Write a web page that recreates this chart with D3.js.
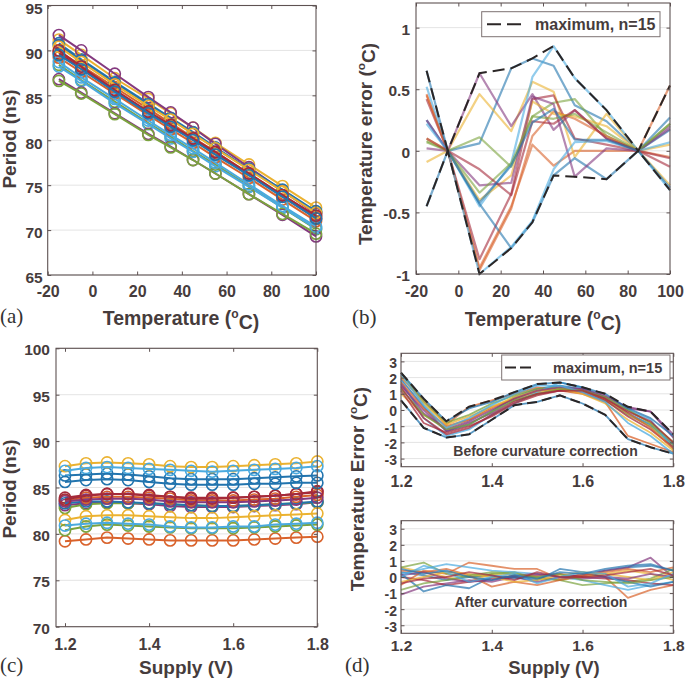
<!DOCTYPE html>
<html><head><meta charset="utf-8">
<script src="https://cdn.jsdelivr.net/npm/d3@7"></script>
<style>
body{margin:0;background:#fff}
text{font-family:"Liberation Sans",Arial,Helvetica,sans-serif;font-weight:bold;fill:#463c3c}
text.plab{font-family:"Liberation Serif","DejaVu Serif",serif;font-weight:normal;fill:#333}
</style>
</head><body>
<svg id="chart" width="685" height="678"></svg>
<script>
// ---------------- DATA ----------------
const temps = [-15, -5, 10, 25, 35, 45, 55, 70, 85, 100];
const supply = [1.2, 1.25, 1.3, 1.35, 1.4, 1.45, 1.5, 1.55, 1.6, 1.65, 1.7, 1.75, 1.8];

// (a) Period (ns) vs temperature, 15 chips
const periodVsTemp = [
  [90.8, 89.0, 86.5, 84.1, 82.5, 80.9, 79.2, 76.8, 74.4, 71.9],
  [89.9, 88.3, 85.9, 83.5, 81.9, 80.3, 78.7, 76.3, 73.9, 71.5],
  [91.2, 89.5, 86.9, 84.6, 83.0, 81.4, 79.7, 77.3, 74.9, 72.5],
  [91.7, 90.0, 87.4, 84.8, 83.1, 81.4, 79.6, 77.0, 74.4, 71.8],
  [88.4, 86.7, 84.3, 81.9, 80.4, 78.8, 77.3, 74.9, 72.5, 70.1],
  [88.2, 86.6, 84.1, 81.8, 80.2, 78.7, 77.1, 74.8, 72.5, 70.2],
  [89.7, 88.0, 85.5, 83.1, 81.6, 80.1, 78.6, 76.2, 73.8, 71.3],
  [90.6, 88.9, 86.4, 84.0, 82.4, 80.8, 79.1, 76.8, 74.5, 72.1],
  [89.2, 87.6, 85.2, 82.8, 81.2, 79.7, 78.1, 75.8, 73.4, 71.0],
  [90.4, 88.7, 86.2, 83.8, 82.3, 80.7, 79.1, 76.7, 74.3, 71.9],
  [86.8, 85.3, 83.0, 80.7, 79.3, 77.8, 76.3, 74.0, 71.7, 69.3],
  [86.6, 85.2, 82.9, 80.6, 79.2, 77.8, 76.3, 74.0, 71.8, 69.6],
  [88.7, 87.0, 84.6, 82.2, 80.6, 79.1, 77.5, 75.1, 72.7, 70.4],
  [90.0, 88.2, 85.6, 83.2, 81.7, 80.2, 78.7, 76.3, 73.9, 71.6],
  [89.5, 87.9, 85.4, 83.0, 81.5, 80.0, 78.4, 76.1, 73.7, 71.3]
];

// (b) Temperature error (°C) vs temperature
const tempError = [
  [-0.45, 0, 0.06, 0.67, 0.75, 0.69, 0.37, 0.24, 0, 0.27],
  [0.46, 0, -0.95, -0.45, 0.05, -0.12, 0.0, 0.0, 0, 0.53],
  [-0.09, 0, 0.46, 0.16, 0.56, 0.48, -0.05, 0.30, 0, -0.28],
  [0.02, 0, 0.63, 0.20, 0.46, 0.17, 0.33, 0.10, 0, 0.20],
  [0.08, 0, 0.11, -0.13, 0.28, 0.39, 0.42, 0.12, 0, 0.22],
  [0.52, 0, -0.45, -0.10, 0.60, 0.85, 0.59, 0.33, 0, -0.32],
  [0.42, 0, -0.88, -0.35, 0.42, 0.45, 0.10, 0.05, 0, -0.13],
  [0.25, 0, -0.43, -0.79, -0.58, -0.20, -0.06, -0.23, 0, 0.17],
  [0.45, 0, -0.97, -0.47, 0.12, 0.32, 0.26, 0.12, 0, -0.05],
  [0.10, 0, -0.40, -0.20, 0.40, 0.30, 0.28, 0.20, 0, 0.05],
  [0.25, 0, -0.28, -0.26, 0.44, 0.38, -0.21, 0.02, 0, 0.18],
  [0.07, 0, -0.34, -0.10, 0.28, 0.26, 0.30, 0.15, 0, 0.22],
  [0.22, 0, -1.00, -0.78, -0.57, -0.15, 0.07, 0.08, 0, 0.07],
  [0.10, 0, -0.15, -0.36, 0.24, 0.22, 0.33, 0.10, 0, -0.06],
  [0.65, 0, -0.42, -0.12, 0.23, 0.34, 0.09, 0.09, 0, -0.30]
];

// (c) Period (ns) vs supply
const periodVsSupply = [
  [86.3, 86.4, 86.5, 86.4, 86.2, 86.0, 85.9, 85.9, 85.9, 86.0, 86.1, 86.2, 86.3],
  [79.2, 79.4, 79.6, 79.5, 79.4, 79.3, 79.3, 79.3, 79.3, 79.4, 79.5, 79.6, 79.7],
  [87.3, 87.6, 87.7, 87.6, 87.5, 87.3, 87.2, 87.2, 87.3, 87.4, 87.5, 87.6, 87.8],
  [83.1, 83.3, 83.4, 83.3, 83.2, 83.0, 82.9, 82.9, 82.9, 83.0, 83.1, 83.2, 83.4],
  [82.8, 83.2, 83.3, 83.3, 83.3, 83.2, 83.1, 83.0, 83.0, 83.1, 83.2, 83.3, 83.4],
  [86.8, 87.1, 87.2, 87.1, 87.0, 86.9, 86.8, 86.7, 86.8, 86.9, 87.0, 87.1, 87.3],
  [83.9, 84.2, 84.3, 84.3, 84.1, 84.0, 83.9, 83.9, 83.9, 84.0, 84.1, 84.3, 84.6],
  [83.3, 83.5, 83.5, 83.4, 83.3, 83.2, 83.1, 83.0, 83.0, 83.1, 83.2, 83.3, 83.5],
  [83.6, 83.9, 84.0, 84.0, 83.9, 83.8, 83.6, 83.6, 83.6, 83.7, 83.8, 84.0, 84.2],
  [81.5, 81.9, 82.0, 82.0, 81.9, 81.8, 81.7, 81.7, 81.8, 81.9, 82.0, 82.1, 82.2],
  [83.5, 83.7, 83.8, 83.8, 83.7, 83.5, 83.4, 83.4, 83.4, 83.5, 83.6, 83.7, 83.9],
  [80.4, 80.8, 81.0, 80.9, 80.8, 80.7, 80.6, 80.6, 80.6, 80.7, 80.8, 80.9, 81.0],
  [80.9, 81.1, 81.2, 81.1, 81.0, 80.8, 80.7, 80.7, 80.8, 80.8, 81.0, 81.1, 81.2],
  [83.7, 84.1, 84.3, 84.3, 84.2, 84.0, 83.8, 83.8, 83.9, 84.0, 84.1, 84.3, 84.5],
  [85.6, 85.8, 85.9, 85.8, 85.6, 85.4, 85.3, 85.3, 85.3, 85.4, 85.4, 85.5, 85.5]
];

// (d) Temperature error vs supply, before curvature correction
const errBefore = [
  [1.9, 0.2, -1.3, -0.9, -0.1, 0.8, 1.3, 1.5, 1.3, 0.8, -0.2, -0.9, -2.1],
  [2.0, 0.6, -0.9, 0.2, 0.6, 1.0, 1.4, 1.2, 1.0, 0.5, -1.6, -2.1, -2.6],
  [1.0, -0.3, -1.1, -0.6, 0.2, 0.7, 1.1, 1.3, 1.2, 0.7, 0.0, -0.8, -2.0],
  [1.5, 0.0, -1.3, -0.8, -0.2, 0.6, 1.0, 1.2, 1.3, 0.9, 0.1, -0.1, -1.5],
  [2.3, 0.5, -0.8, -0.3, 0.4, 0.9, 1.3, 1.4, 1.2, 0.6, -0.3, -1.0, -2.2],
  [1.8, -0.5, -1.6, -1.2, -0.3, 0.4, 1.1, 1.7, 1.4, 0.7, 0.0, -0.6, -2.4],
  [1.2, -0.8, -1.4, -1.0, -0.4, 0.4, 0.9, 1.2, 1.1, 0.6, -0.4, -1.2, -2.3],
  [0.6, -1.1, -1.7, -1.5, -0.6, 0.3, 0.5, 0.9, 0.4, -0.3, -1.8, -2.3, -2.7],
  [1.7, 0.1, -1.0, -0.6, 0.1, 0.7, 1.2, 1.3, 1.2, 0.7, -0.2, -1.1, -2.4],
  [2.1, 0.4, -0.9, -0.4, 0.2, 0.8, 1.2, 1.3, 1.0, 0.4, -0.6, -1.4, -2.5],
  [1.6, -0.2, -1.2, -0.7, 0.0, 0.7, 1.2, 1.4, 1.3, 0.8, 0.2, -0.1, -1.7],
  [1.3, -0.3, -1.2, -0.9, -0.1, 0.6, 1.0, 1.3, 1.2, 0.8, 0.0, -0.8, -2.0],
  [2.2, 0.3, -1.1, -0.5, 0.3, 1.0, 1.5, 1.5, 1.1, 0.5, -0.8, -1.6, -2.7],
  [1.4, -0.5, -1.5, -1.1, -0.3, 0.5, 1.0, 1.2, 1.2, 0.7, -0.1, -0.7, -2.0],
  [2.3, 0.7, -0.7, 0.1, 0.5, 1.1, 1.6, 1.7, 1.4, 1.0, 0.1, -0.5, -1.6]
];

// (d) after curvature correction
const errAfter = [
  [0.3, 0.1, -0.2, 0.0, 0.1, -0.1, 0.0, -0.2, 0.1, 0.4, 0.6, 0.7, 0.4],
  [-0.5, 0.4, 0.2, 0.9, 0.7, 0.5, 0.5, -0.1, 0.2, 0.0, -1.3, -0.8, -0.5],
  [0.6, 0.3, 0.0, -0.3, 0.2, 0.1, 0.0, -0.2, 0.0, 0.2, 0.4, 0.2, -0.2],
  [-1.1, -0.6, -0.4, -0.2, -0.3, 0.0, -0.3, 0.0, 0.1, 0.4, 0.6, 1.2, 0.0],
  [0.6, 0.9, 0.2, 0.0, 0.2, 0.3, -0.1, -0.2, -0.5, -0.4, -0.3, -0.1, 0.5],
  [0.2, 0.5, 0.8, 0.6, 0.4, 0.3, 0.2, 0.0, -0.2, -0.5, -0.8, -0.5, -0.3],
  [0.0, -0.2, -0.5, -0.3, -0.1, 0.0, 0.1, 0.2, 0.0, -0.1, -0.2, -0.4, -0.5],
  [0.2, -0.9, -0.5, -0.7, 0.0, 0.0, -0.2, 0.5, 0.3, 0.0, -0.3, -0.6, -0.3],
  [0.4, 0.3, 0.5, 0.1, -0.6, -0.3, -0.5, -0.2, 0.1, 0.3, 0.5, 0.3, 0.6],
  [-0.3, 0.0, 0.3, 0.2, 0.0, -0.3, -0.2, 0.1, 0.3, 0.2, 0.0, -0.2, 0.3],
  [0.1, 0.3, -0.1, -0.3, -0.2, 0.1, 0.2, 0.0, -0.1, 0.0, -0.1, 0.2, 0.0],
  [-0.8, -0.4, -0.2, 0.1, 0.3, 0.2, 0.0, 0.2, -0.2, -0.3, -0.4, -0.2, 0.0],
  [0.0, 0.7, 0.3, -0.3, 0.0, 0.2, -0.4, 0.0, 0.3, 0.2, -0.6, -0.4, 0.2],
  [-0.4, -0.1, 0.0, 0.3, 0.1, -0.2, 0.3, 0.0, 0.0, 0.1, 0.3, 0.5, 0.1],
  [0.5, 0.2, 0.4, 0.0, -0.2, 0.1, -0.1, 0.3, 0.2, 0.5, 0.7, 0.8, 0.4]
];

const tempTicks = [-20, 0, 20, 40, 60, 80, 100];
const periodTicksA = [65, 70, 75, 80, 85, 90, 95];
const errTicksB = [-1, -0.5, 0, 0.5, 1];
const supplyTicks = [1.2, 1.4, 1.6, 1.8];
const periodTicksC = [70, 75, 80, 85, 90, 95, 100];
const errTicksD = [-3, -2, -1, 0, 1, 2, 3];
const legendLabel = "maximum, n=15";

// ---------------- STYLE ----------------
const palette = ["#2274ae", "#d9622b", "#ebb230", "#84397f", "#7ba33e", "#4aaadf", "#a52a3a"];
const axisColor = "#5e5252";
const gridColor = "#e4e4e4";
const svg = d3.select("#chart");

function makeAxes(o) {
  const x = d3.scaleLinear().domain(o.xdom).range([o.x0, o.x1]);
  const y = d3.scaleLinear().domain(o.ydom).range([o.y1, o.y0]);
  const g = svg.append("g");
  g.append("g").selectAll("line").data(o.yticks).join("line")
    .attr("x1", o.x0).attr("x2", o.x1)
    .attr("y1", d => y(d)).attr("y2", d => y(d))
    .attr("stroke", gridColor).attr("stroke-width", 1);
  const plot = g.append("g");
  const over = svg.append("g");
  over.append("rect").attr("x", o.x0).attr("y", o.y0)
    .attr("width", o.x1 - o.x0).attr("height", o.y1 - o.y0)
    .attr("fill", "none").attr("stroke", axisColor).attr("stroke-width", 1.1);
  const fmt = o.fmt || (d => String(d));
  const ax = d3.axisBottom(x).tickValues(o.xticks).tickSize(-3.5).tickPadding(o.xpad).tickFormat(fmt);
  const axT = d3.axisTop(x).tickValues(o.xticks).tickSize(-3.5).tickFormat("");
  const ay = d3.axisLeft(y).tickValues(o.yticks).tickSize(-3.5).tickPadding(o.ypad).tickFormat(o.yfmt || fmt);
  const ayR = d3.axisRight(y).tickValues(o.yticks).tickSize(-3.5).tickFormat("");
  const gx = over.append("g").attr("transform", `translate(0,${o.y1})`).call(ax);
  const gxt = over.append("g").attr("transform", `translate(0,${o.y0})`).call(axT);
  const gy = over.append("g").attr("transform", `translate(${o.x0},0)`).call(ay);
  const gyr = over.append("g").attr("transform", `translate(${o.x1},0)`).call(ayR);
  [gx, gxt, gy, gyr].forEach(s => {
    s.select(".domain").remove();
    s.selectAll(".tick line").attr("stroke", axisColor);
    s.selectAll(".tick text").attr("fill", "#463c3c")
      .style("font-family", '"Liberation Sans",Arial,sans-serif')
      .style("font-weight", "bold").style("font-size", o.tickSize + "px");
  });
  gy.selectAll(".tick text").attr("dy", o.ydy || "0.42em").style("font-size", (o.ytickSize || o.tickSize) + "px");
  return {x, y, plot, over};
}

function degLabel(sel, pre) {
  sel.append("tspan").text(pre + "(");
  sel.append("tspan").text("o").attr("font-size", "0.62em").attr("dy", "-0.55em");
  sel.append("tspan").text("C)").attr("dy", "0.55em");
}

function addXLabel(x, y, size, txt, deg) {
  const t = svg.append("text").attr("x", x).attr("y", y).attr("text-anchor", "middle").style("font-size", size + "px");
  if (deg) degLabel(t, txt); else t.text(txt);
}
function addYLabel(x, y, size, txt, deg) {
  const t = svg.append("text").attr("transform", `translate(${x},${y}) rotate(-90)`).attr("text-anchor", "middle").style("font-size", size + "px");
  if (deg) degLabel(t, txt); else t.text(txt);
}

function markerSeries(A, xs, data) {
  data.forEach((s, i) => {
    const c = palette[i % palette.length];
    const pts = s.map((v, j) => [A.x(xs[j]), A.y(v)]);
    A.plot.append("path").attr("d", d3.line()(pts)).attr("fill", "none")
      .attr("stroke", c).attr("stroke-width", 2);
    A.plot.append("g").selectAll("circle").data(pts).join("circle")
      .attr("cx", d => d[0]).attr("cy", d => d[1]).attr("r", 5.6)
      .attr("fill", "none").attr("stroke", c).attr("stroke-width", 1.6);
  });
}

function lineSeries(A, xs, data, opacity, width) {
  data.forEach((s, i) => {
    const c = palette[i % palette.length];
    const pts = s.map((v, j) => [A.x(xs[j]), A.y(v)]);
    A.plot.append("path").attr("d", d3.line()(pts)).attr("fill", "none")
      .attr("stroke", c).attr("stroke-width", width).attr("stroke-opacity", opacity)
      .attr("stroke-linejoin", "round");
  });
}

function envelope(A, xs, data, dash) {
  const up = xs.map((_, j) => d3.max(data, s => s[j]));
  const lo = xs.map((_, j) => d3.min(data, s => s[j]));
  [up, lo].forEach(e => {
    A.plot.append("path").attr("d", d3.line()(e.map((v, j) => [A.x(xs[j]), A.y(v)])))
      .attr("fill", "none").attr("stroke", "#2b2626").attr("stroke-width", 2)
      .attr("stroke-dasharray", dash);
  });
}

function legend(x0, y0, w, h, lx0, lx1, tx, size, dash) {
  const g = svg.append("g");
  g.append("rect").attr("x", x0).attr("y", y0).attr("width", w).attr("height", h)
    .attr("fill", "#fff").attr("stroke", "#7d7272").attr("stroke-width", 1);
  g.append("line").attr("x1", lx0).attr("x2", lx1).attr("y1", y0 + h / 2).attr("y2", y0 + h / 2)
    .attr("stroke", "#2b2626").attr("stroke-width", 2).attr("stroke-dasharray", dash);
  g.append("text").attr("x", tx).attr("y", y0 + h / 2).attr("dy", "0.36em")
    .style("font-size", size + "px").text(legendLabel);
}

// ---------------- (a) ----------------
const A = makeAxes({x0: 47.7, x1: 316, y0: 5.5, y1: 275, xdom: [-20, 100], ydom: [65, 95],
  xticks: tempTicks, yticks: periodTicksA, xpad: 11, ypad: 5, tickSize: 16, ytickSize: 15.5, ydy: "0.5em"});
markerSeries(A, temps, periodVsTemp);
addYLabel(15.5, 139, 19, "Period (ns)");
addXLabel(181, 325, 19.5, "Temperature ", true);
svg.append("text").attr("class", "plab").attr("x", 0).attr("y", 323).style("font-size", "21px").text("(a)");

// ---------------- (b) ----------------
const B = makeAxes({x0: 416, x1: 670, y0: 3, y1: 274, xdom: [-20, 100], ydom: [-1, 1.2],
  xticks: tempTicks, yticks: errTicksB, xpad: 12, ypad: 6, tickSize: 16, ytickSize: 15.5});
lineSeries(B, temps, tempError, 0.6, 2.2);
envelope(B, temps, tempError, "12,6");
legend(481.7, 11.7, 178.3, 25, 487, 522, 535, 16, "14,6");
addYLabel(371.5, 144, 19, "Temperature error ", true);
addXLabel(543, 326, 19.5, "Temperature ", true);
svg.append("text").attr("class", "plab").attr("x", 352).attr("y", 324).style("font-size", "21px").text("(b)");

// ---------------- (c) ----------------
const C = makeAxes({x0: 56, x1: 317.3, y0: 348.3, y1: 626.7, xdom: [1.1786, 1.8], ydom: [70, 100],
  xticks: supplyTicks, yticks: periodTicksC, xpad: 11.5, ypad: 6, tickSize: 16, ytickSize: 15.5,
  fmt: d3.format(".1f"), yfmt: d => String(d)});
markerSeries(C, supply, periodVsSupply);
addYLabel(15.5, 489, 19, "Period (ns)");
addXLabel(186, 674, 19, "Supply (V)");
svg.append("text").attr("class", "plab").attr("x", 0).attr("y", 672).style("font-size", "21px").text("(c)");

// ---------------- (d) ----------------
const D1 = makeAxes({x0: 401, x1: 673.3, y0: 353.3, y1: 466.7, xdom: [1.2, 1.8], ydom: [-3.5, 3.5],
  xticks: supplyTicks, yticks: errTicksD, xpad: 9, ypad: 4, tickSize: 16, ytickSize: 14,
  fmt: d3.format(".1f"), yfmt: d => String(d)});
lineSeries(D1, supply, errBefore, 0.75, 1.8);
envelope(D1, supply, errBefore, "10,5");
legend(501.7, 355, 168.3, 25, 505, 531, 553, 14.5, "11,4");
svg.append("text").attr("x", 545.5).attr("y", 456).attr("text-anchor", "middle").style("font-size", "14px").text("Before curvature correction");

const D2 = makeAxes({x0: 401, x1: 673.3, y0: 520.7, y1: 633.3, xdom: [1.2, 1.8], ydom: [-3.5, 3.5],
  xticks: supplyTicks, yticks: errTicksD, xpad: 6.5, ypad: 4, tickSize: 15.5, ytickSize: 14,
  fmt: d3.format(".1f"), yfmt: d => String(d)});
lineSeries(D2, supply, errAfter, 0.7, 1.8);
svg.append("text").attr("x", 541).attr("y", 607).attr("text-anchor", "middle").style("font-size", "14px").text("After curvature correction");

addYLabel(363.5, 489, 19, "Temperature Error ", true);
addXLabel(554, 673.5, 18.5, "Supply (V)");
svg.append("text").attr("class", "plab").attr("x", 345).attr("y", 672).style("font-size", "21px").text("(d)");
</script>
</body></html>
